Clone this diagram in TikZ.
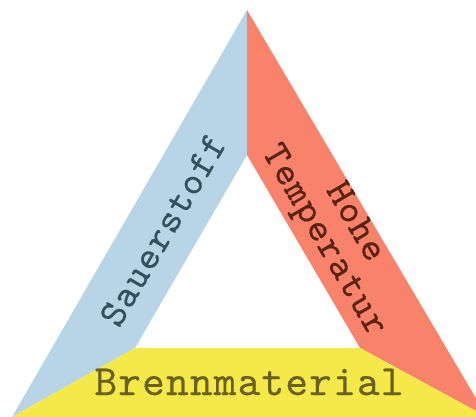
\documentclass[tikz,border=0pt]{standalone}
\usepackage{fontspec}
\newfontfamily\courlike[LetterSpace=3,FakeBold=0.4]{lmmono10-regular.otf}
\definecolor{oxy}{HTML}{B7D5E6}
\definecolor{oxytext}{HTML}{34505F}
\definecolor{heat}{HTML}{F8826A}
\definecolor{heattext}{HTML}{5A2312}
\definecolor{fuel}{HTML}{F5E94A}
\definecolor{fueltext}{HTML}{6A6022}
\tikzset{
  lbl/.style={font=\courlike\fontsize{39}{36}\selectfont, inner sep=0pt, align=center},
}
\begin{document}
\begin{tikzpicture}[x=1pt,y=-1pt]
\useasboundingbox (0,0) rectangle (476,417);
\clip (0,0) rectangle (476,417);
\coordinate (A) at (247,10);
\coordinate (I) at (247,155);
\coordinate (IL) at (135,348);
\coordinate (IR) at (360,348);
\coordinate (L) at (12,417);
\coordinate (R) at (487,417);
\fill[oxy] (A) -- (I) -- (IL) -- (L) -- cycle;
\fill[heat] (A) -- (I) -- (IR) -- (R) -- cycle;
\fill[fuel] (L) -- (IL) -- (IR) -- (R) -- cycle;
\node[lbl, text=oxytext, rotate=59.7] (oxy) at (163,230) {Sauerstoff};
\node[lbl, text=heattext, rotate=-59.7] (heat) at (338,232) {Hohe\\Temperatur};
\node[lbl, text=fueltext, anchor=base, font=\courlike\fontsize{43}{43}\selectfont] (fuel) at (249,395) {Brennmaterial};
\end{tikzpicture}
\end{document}
